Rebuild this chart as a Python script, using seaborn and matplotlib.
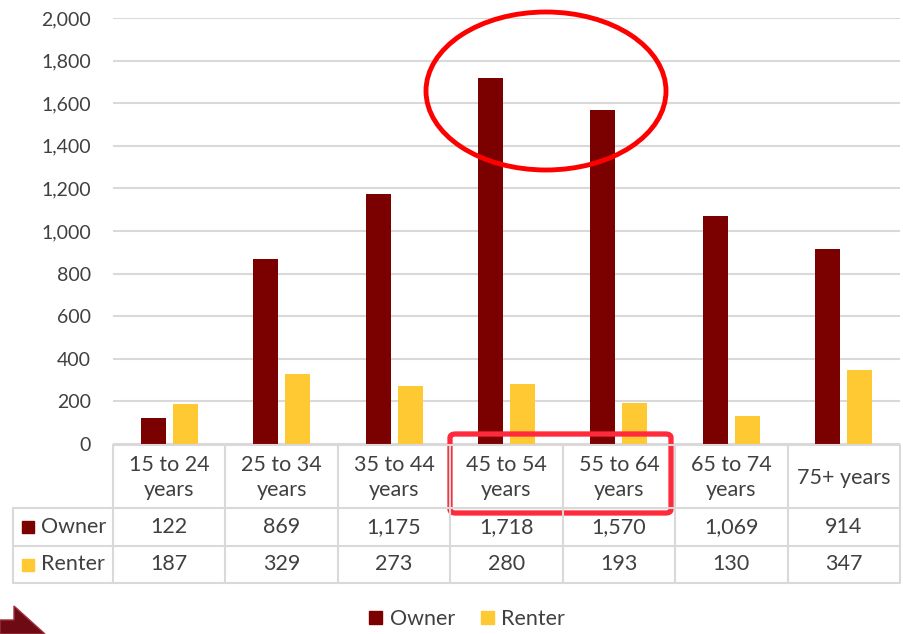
import pandas as pd
import numpy as np
import matplotlib.pyplot as plt
import seaborn as sns
from matplotlib.patches import Ellipse, FancyBboxPatch, Patch, Polygon
from matplotlib.lines import Line2D

# Data
age_groups = ['15 to 24\nyears', '25 to 34\nyears', '35 to 44\nyears', '45 to 54\nyears',
              '55 to 64\nyears', '65 to 74\nyears', '75+ years']
owner = [122, 869, 1175, 1718, 1570, 1069, 914]
renter = [187, 329, 273, 280, 193, 130, 347]
series = ['Owner', 'Renter']
colors = ['#7b0000', '#ffc933']

df = pd.DataFrame({'age': age_groups * 2,
                   'tenure': ['Owner'] * 7 + ['Renter'] * 7,
                   'count': owner + renter})

sns.set_style('white')
plt.rcParams['font.family'] = ['Lato', 'DejaVu Sans']

W, H = 904, 634
fig = plt.figure(figsize=(W / 100, H / 100), dpi=100)

def fx(px):
    return px / W

def fy(py):
    return 1 - py / H

left, right, top, bottom = 113, 900, 18, 444
ax = fig.add_axes([fx(left), fy(bottom), fx(right) - fx(left), fy(top) - fy(bottom)])

sns.barplot(data=df, x='age', y='count', hue='tenure', hue_order=series,
            palette=colors, saturation=1, width=0.57, gap=0.22, linewidth=0,
            legend=False, ax=ax)

ax.set_xlim(-0.5, 6.5)
ax.set_ylim(0, 2000)
ax.set_yticks(range(0, 2001, 200))
ax.set_yticklabels([f'{v:,}' for v in range(0, 2001, 200)])
ax.yaxis.grid(True, color='#d9d9d9', linewidth=1.5)
ax.set_axisbelow(True)
ax.set_xticks([])
ax.set_xlabel('')
ax.set_ylabel('')
ax.tick_params(axis='y', length=0, pad=16, labelsize=14, labelcolor='#404040')
sns.despine(ax=ax, left=True, bottom=True)

# Data table under the bars
line_c = '#d9d9d9'
col_w = (right - left) / 7
edges = [left + col_w * k for k in range(8)]
y_head, y_own, y_ren, y_end = 445, 508, 546, 583

def hline(y, x0, x1):
    fig.add_artist(Line2D([fx(x0), fx(x1)], [fy(y), fy(y)], color=line_c, lw=1.5))

def vline(x, y0, y1):
    fig.add_artist(Line2D([fx(x), fx(x)], [fy(y0), fy(y1)], color=line_c, lw=1.5))

hline(y_head, left, right)
for y in (y_own, y_ren, y_end):
    hline(y, 13, right)
vline(13, y_own, y_end)
for x in edges:
    vline(x, y_head, y_end)

txt_c = '#404040'
fs = 15.5
for i in range(7):
    cx = fx((edges[i] + edges[i + 1]) / 2)
    fig.text(cx, fy((y_head + y_own) / 2 + 1), age_groups[i], ha='center', va='center',
             fontsize=fs, color=txt_c, linespacing=1.35)
    fig.text(cx, fy((y_own + y_ren) / 2), f'{owner[i]:,}', ha='center', va='center',
             fontsize=fs, color=txt_c)
    fig.text(cx, fy((y_ren + y_end) / 2), f'{renter[i]:,}', ha='center', va='center',
             fontsize=fs, color=txt_c)

for name, c, (y0, y1) in zip(series, colors, [(y_own, y_ren), (y_ren, y_end)]):
    yc = (y0 + y1) / 2
    fig.add_artist(Line2D([fx(28)], [fy(yc)], marker='s', markersize=8,
                          color=c, linestyle='none'))
    fig.text(fx(41), fy(yc), name, ha='left', va='center', fontsize=fs, color=txt_c)

# Legend at the bottom
handles = [Patch(color=c, label=s) for s, c in zip(series, colors)]
fig.legend(handles=handles, loc='center', bbox_to_anchor=(fx(467), fy(619)), ncol=2,
           frameon=False, fontsize=fs, handlelength=0.6, handleheight=0.6,
           handletextpad=0.35, columnspacing=1.2, labelcolor=txt_c)

# Highlight shapes
fig.add_artist(Ellipse((fx(546), fy(91)), fx(240), 158 / H, fill=False,
                       edgecolor='#ff0000', lw=3.5))
fig.add_artist(FancyBboxPatch((fx(450), fy(513)), fx(221), 79 / H,
                              boxstyle='round,pad=0,rounding_size=0.006',
                              fill=False, edgecolor='#ff2a3c', lw=3.8))

# Corner arrow shape
fig.add_artist(Polygon([(fx(0), fy(620)), (fx(14), fy(620)), (fx(14), fy(606)),
                        (fx(45), fy(634)), (fx(0), fy(634))],
                       closed=True, facecolor='#6d0a14', edgecolor='#a0303a', lw=1))

fig.savefig('out.png', dpi=100)
